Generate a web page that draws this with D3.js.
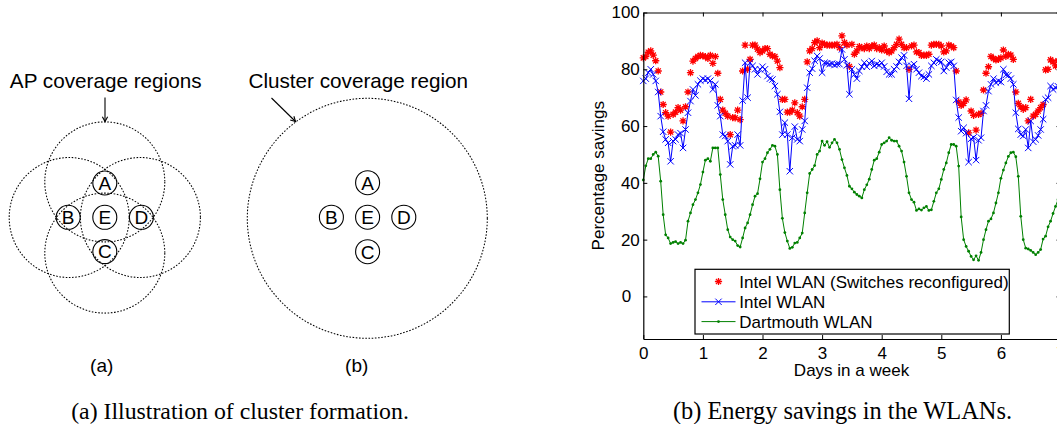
<!DOCTYPE html>
<html><head><meta charset="utf-8">
<script src="https://cdn.jsdelivr.net/npm/d3@7/dist/d3.min.js"></script>
<style>html,body{margin:0;padding:0;background:#fff;overflow:hidden;}svg{display:block;}</style>
</head><body>
<svg id="c" width="1057" height="424"></svg>
<script>
// ---------------- data ----------------
const dayTicks = [0,1,2,3,4,5,6,7];
const yTicks = [0,20,40,60,80,100];
const seriesNames = ["Intel WLAN (Switches reconfigured)", "Intel WLAN", "Dartmouth WLAN"];
const samplesPerDay = 24; // hourly samples over one week
const intelReconf = [84,84.5,86,86.5,85,83,79.4,72,67.6,64.7,63.5,57.9,64.1,64.9,66.5,65.6,61.8,66.8,72,78.8,82.9,83.8,84.5,84.9,
  84.7,84.5,83.8,84.9,82.1,84.5,78.6,69.4,65.6,64.5,63.5,57,63,62.9,65.6,62.3,79.4,88.5,80,83.5,88.5,88.5,87.1,85.9,
  86.5,87.3,87.3,85.3,84.7,84.5,82.9,80.6,69.4,69.4,64.9,64.9,65.6,68.2,64.7,63.5,66.8,69.4,82.6,86.5,87.3,89.4,90,87.6,
  89.2,88.8,88.5,88.5,88.5,88.5,88.8,87.6,91.8,89.4,88.5,81,88.8,85.3,86.5,88,87.6,87.3,88.2,87.3,88.2,88.5,87.3,87.6,
  86.8,88.2,86.5,85.9,86.5,87.6,88.8,90.6,88.8,87.6,87.6,80,88.2,88.5,86.1,85.9,84.9,85,84.9,85.3,88.5,88.8,88.8,88.8,
  88.2,86.1,86.5,88.5,88.2,87.6,79.4,68.5,67.3,68,69.2,57.6,65.3,63.8,58.6,64.1,64.5,72.7,78.6,80.9,84.5,83.8,83.3,83.5,
  84,86.8,84.5,85.3,85,83.5,72,68,66.8,65.9,66.5,61.8,69.4,63.5,64.1,65.3,66.5,67.6,79.8,80,83.3,82.6,81.2,83,82];
const intelWlan = [75.9,76.7,78.8,80,78.2,75.9,72,63.5,58,55.3,54.1,47.6,54.7,55.3,57,57.5,52.3,58.8,64.7,68.8,72.9,70.8,74.7,76,
  76.7,76.2,76.7,76,72.9,74.7,67.3,63.5,57,56.5,54.7,46.5,52.9,53.2,57,53.2,69,82.3,70,82.3,81.2,80,78.2,80,
  80.9,80,77.6,76.7,76.4,74.1,71.2,65,57,61.2,57,44.1,55.9,59.8,55.3,54.7,58.8,61.8,73.5,78.8,80.2,83,84.7,83.8,
  78.8,82.3,82.1,81.8,82,81.5,81.8,81.8,87,83.5,81.4,71.2,80,78.2,76.7,79.4,80.9,82.3,80.9,82.1,82.9,81.2,81.8,81.5,
  82.3,81,79.1,78.2,78.2,80,81,82.6,84.1,84.9,81.2,69.6,81.2,81.8,80,78.8,77.6,77.3,76.7,78.2,81.2,82.3,83.5,82.9,
  82.6,79.4,80.6,82.3,82.6,81.2,69.2,63,58.2,59.4,57.5,47.3,55.5,56,48,55,55.9,65.3,67.3,72.3,74.7,76.7,75.3,75.9,
  75.5,80,78,77.9,76.7,74.7,64.7,59,57,56.5,58.8,52.3,61.8,54.5,55.3,56.7,58.8,62.4,69.4,70,74.1,72.9,73.5,74,73];
const dartmouth = [41,46,48.5,48.5,50,50.8,49.4,40.6,28.8,21.7,20.6,18.6,19,19.3,18.6,19,18.6,19.8,26.5,29.4,32.3,34.1,36.5,39.4,
  43.8,48,48.5,47.6,52.3,52.3,52.3,42.9,34.1,28.8,23.5,20.9,20,19.5,17.9,17.4,20.6,24.1,25.9,28.8,32.3,35.3,36.2,41.4,
  47.3,48.5,50.6,51.8,53.2,52.9,50,37.6,27.5,22.5,19.5,16.9,17.3,18.8,19,20.6,22.3,29.4,36.5,43.3,44.7,46.1,50,51.2,
  54.7,53.2,54.5,52.5,54.1,55.3,54.1,51.8,48.2,45.3,42.6,38.8,37.9,36.7,35.9,35.3,34.7,37.6,39.3,41.3,44.7,48,48.5,50.8,
  53.5,54.1,54.7,55.9,55,54.7,54.7,52.9,51.2,47.3,42.3,36.5,34.1,33.2,30.3,30.8,30.4,31.2,31.7,30.3,30.5,33.5,36.5,37.9,
  41.2,44.7,47,50.6,53.5,53.5,52.9,45.9,28,20,17.6,15.9,14.1,12.9,14.3,12.7,15.5,20,23.5,26.5,27.3,29.4,32.9,36.5,
  41.6,44.5,47,49.3,50.6,50.8,49.2,42.3,28.2,20,17,16.7,16.2,15.5,14.7,15.5,16.5,20.2,21.2,24.5,26.5,29.2,31.7,34.1,37];
const apLabels = ["A","B","C","D","E"];
const texts = {
  apTitle: "AP coverage regions",
  clusterTitle: "Cluster coverage region",
  subA: "(a)", subB: "(b)",
  capA: "(a) Illustration of cluster formation.",
  capB: "(b) Energy savings in the WLANs.",
  xLabel: "Days in a week",
  yLabel: "Percentage savings"
};

// ---------------- drawing ----------------
const svg = d3.select("#c");
const SANS = "'Liberation Sans', Arial, Helvetica, sans-serif";
const SERIF = "'Liberation Serif', 'Times New Roman', serif";
const DASH = "1.6 1.6";

// ---- left figure ----
const nodeOffsets = {A:[0,-1],B:[-1,0],C:[0,1],D:[1,0],E:[0,0]};
function drawNodes(g, cx, cy, sx, sy){
  apLabels.forEach(l=>{
    const o = nodeOffsets[l];
    const px = cx + o[0]*sx, py = cy + o[1]*sy;
    g.append("circle").attr("cx",px).attr("cy",py).attr("r",12)
      .attr("fill","none").attr("stroke","#000").attr("stroke-width",1.1);
    g.append("text").attr("x",px).attr("y",py).attr("dy","0.36em")
      .attr("text-anchor","middle").attr("font-family",SANS).attr("font-size",19).text(l);
  });
}
function arrow(g, x1,y1,x2,y2){
  g.append("line").attr("x1",x1).attr("y1",y1).attr("x2",x2).attr("y2",y2)
    .attr("stroke","#000").attr("stroke-width",1.1);
  const a = Math.atan2(y2-y1,x2-x1), L=5.5, w=0.5;
  const p = d3.path();
  p.moveTo(x2 - L*Math.cos(a-w), y2 - L*Math.sin(a-w));
  p.lineTo(x2,y2);
  p.lineTo(x2 - L*Math.cos(a+w), y2 - L*Math.sin(a+w));
  g.append("path").attr("d",p.toString()).attr("fill","none").attr("stroke","#000").attr("stroke-width",1.1);
}
const gl = svg.append("g");
// panel (a)
const ca = [104.8, 217.5], off = 35.6, rAP = 60;
[[0,-1],[-1,0],[1,0],[0,1]].forEach(o=>{
  gl.append("circle").attr("cx",ca[0]+o[0]*off).attr("cy",ca[1]+o[1]*off).attr("r",rAP)
    .attr("fill","none").attr("stroke","#000").attr("stroke-width",1.05).attr("stroke-dasharray",DASH);
});
drawNodes(gl, 104.8, 217.3, 36.6, 34.3);
gl.append("text").attr("x",105.7).attr("y",80.7).attr("dy","0.36em").attr("text-anchor","middle")
  .attr("font-family",SANS).attr("font-size",20.7).text(texts.apTitle);
arrow(gl, 105, 97.5, 105, 121.5);
// panel (b)
gl.append("circle").attr("cx",367.3).attr("cy",218.3).attr("r",120)
  .attr("fill","none").attr("stroke","#000").attr("stroke-width",1.05).attr("stroke-dasharray",DASH);
drawNodes(gl, 367.6, 217.2, 36.2, 34.5);
gl.append("text").attr("x",358.3).attr("y",80.7).attr("dy","0.36em").attr("text-anchor","middle")
  .attr("font-family",SANS).attr("font-size",20.7).text(texts.clusterTitle);
arrow(gl, 271.5, 98, 295.5, 121.5);
gl.append("text").attr("x",101.7).attr("y",365).attr("dy","0.36em").attr("text-anchor","middle")
  .attr("font-family",SANS).attr("font-size",19).text(texts.subA);
gl.append("text").attr("x",356.7).attr("y",365).attr("dy","0.36em").attr("text-anchor","middle")
  .attr("font-family",SANS).attr("font-size",19).text(texts.subB);
gl.append("text").attr("x",240).attr("y",411).attr("dy","0.34em").attr("text-anchor","middle")
  .attr("font-family",SERIF).attr("font-size",23.8).text(texts.capA);

// ---- right chart ----
const x = d3.scaleLinear().domain([0,7]).range([643.3, 1060.5]);
const y = d3.scaleLinear().domain([-15,100]).range([339, 12.5]);
const gc = svg.append("g");
const t = i => i / samplesPerDay;

// red asterisks
const ast = 3.6, ad = ast*0.72;
const astPath = `M${-ast},0H${ast}M0,${-ast}V${ast}M${-ad},${-ad}L${ad},${ad}M${-ad},${ad}L${ad},${-ad}`;
gc.append("g").selectAll("path").data(intelReconf).join("path")
  .attr("transform",(d,i)=>`translate(${x(t(i))},${y(d)})`)
  .attr("d",astPath).attr("fill","none").attr("stroke","#ff0000").attr("stroke-width",1.3);

// blue line with x markers
const line = d3.line().x((d,i)=>x(t(i))).y(d=>y(d));
gc.append("path").datum(intelWlan).attr("d",line).attr("fill","none").attr("stroke","#0000ff").attr("stroke-width",1);
const xs = 3.2;
const xPath = `M${-xs},${-xs}L${xs},${xs}M${-xs},${xs}L${xs},${-xs}`;
gc.append("g").selectAll("path").data(intelWlan).join("path")
  .attr("transform",(d,i)=>`translate(${x(t(i))},${y(d)})`)
  .attr("d",xPath).attr("fill","none").attr("stroke","#0000ff").attr("stroke-width",1);

// green line with dots
gc.append("path").datum(dartmouth).attr("d",line).attr("fill","none").attr("stroke","#008000").attr("stroke-width",1);
gc.append("g").selectAll("circle").data(dartmouth).join("circle")
  .attr("cx",(d,i)=>x(t(i))).attr("cy",d=>y(d)).attr("r",1.4).attr("fill","#008000");

// axes (box with inward ticks)
const fs = 17;
const axB = gc.append("g").attr("transform",`translate(0,${y(-15)})`)
  .call(d3.axisBottom(x).tickValues(dayTicks).tickSizeInner(-4).tickSizeOuter(0).tickPadding(8).tickFormat(d3.format("d")));
const axT = gc.append("g").attr("transform",`translate(0,${y(100)})`)
  .call(d3.axisTop(x).tickValues(dayTicks).tickSizeInner(-4).tickSizeOuter(0).tickFormat(""));
const axL = gc.append("g").attr("transform",`translate(${x(0)},0)`)
  .call(d3.axisLeft(y).tickValues(yTicks).tickSizeInner(-4).tickSizeOuter(0).tickPadding(3.5).tickFormat(d3.format("d")));
const axR = gc.append("g").attr("transform",`translate(${x(7)},0)`)
  .call(d3.axisRight(y).tickValues(yTicks).tickSizeInner(-4).tickSizeOuter(0).tickFormat(""));
[axB,axT,axL,axR].forEach(a=>{
  a.select(".domain").attr("stroke","#000").attr("stroke-width",1.2);
  a.selectAll(".tick line").attr("stroke","#000").attr("stroke-width",1);
  a.selectAll("text").attr("font-family",SANS).attr("font-size",fs).attr("fill","#000");
});
axL.selectAll(".tick text").filter(d=>d===0).attr("dx",-8.5);

gc.append("text").attr("x",851.5).attr("y",370).attr("dy","0.36em").attr("text-anchor","middle")
  .attr("font-family",SANS).attr("font-size",fs).text(texts.xLabel);
gc.append("text").attr("transform",`translate(598.3,${(y(-15)+y(100))/2}) rotate(-90)`).attr("dy","0.36em")
  .attr("text-anchor","middle").attr("font-family",SANS).attr("font-size",fs).text(texts.yLabel);

// legend
const lg = gc.append("g");
lg.append("rect").attr("x",695).attr("y",269.3).attr("width",314.3).attr("height",64.7)
  .attr("fill","#fff").attr("stroke","#000").attr("stroke-width",1.2);
const rowsY = [281.5, 301.8, 321.6];
const lx1 = 701.5, lx2 = 735.5, lm = 718.5, tx = 739.3;
lg.append("path").attr("transform",`translate(${lm},${rowsY[0]})`).attr("d",astPath)
  .attr("fill","none").attr("stroke","#ff0000").attr("stroke-width",1.3);
lg.append("line").attr("x1",lx1).attr("x2",lx2).attr("y1",rowsY[1]).attr("y2",rowsY[1]).attr("stroke","#0000ff").attr("stroke-width",1);
lg.append("path").attr("transform",`translate(${lm},${rowsY[1]})`).attr("d",xPath)
  .attr("fill","none").attr("stroke","#0000ff").attr("stroke-width",1);
lg.append("line").attr("x1",lx1).attr("x2",lx2).attr("y1",rowsY[2]).attr("y2",rowsY[2]).attr("stroke","#008000").attr("stroke-width",1);
lg.append("circle").attr("cx",lm).attr("cy",rowsY[2]).attr("r",1.4).attr("fill","#008000");
seriesNames.forEach((n,i)=>{
  lg.append("text").attr("x",tx).attr("y",rowsY[i]).attr("dy","0.36em")
    .attr("font-family",SANS).attr("font-size",fs).text(n);
});

svg.append("text").attr("x",842.5).attr("y",410.5).attr("dy","0.34em").attr("text-anchor","middle")
  .attr("font-family",SERIF).attr("font-size",24.4).text(texts.capB);
</script>
</body></html>
